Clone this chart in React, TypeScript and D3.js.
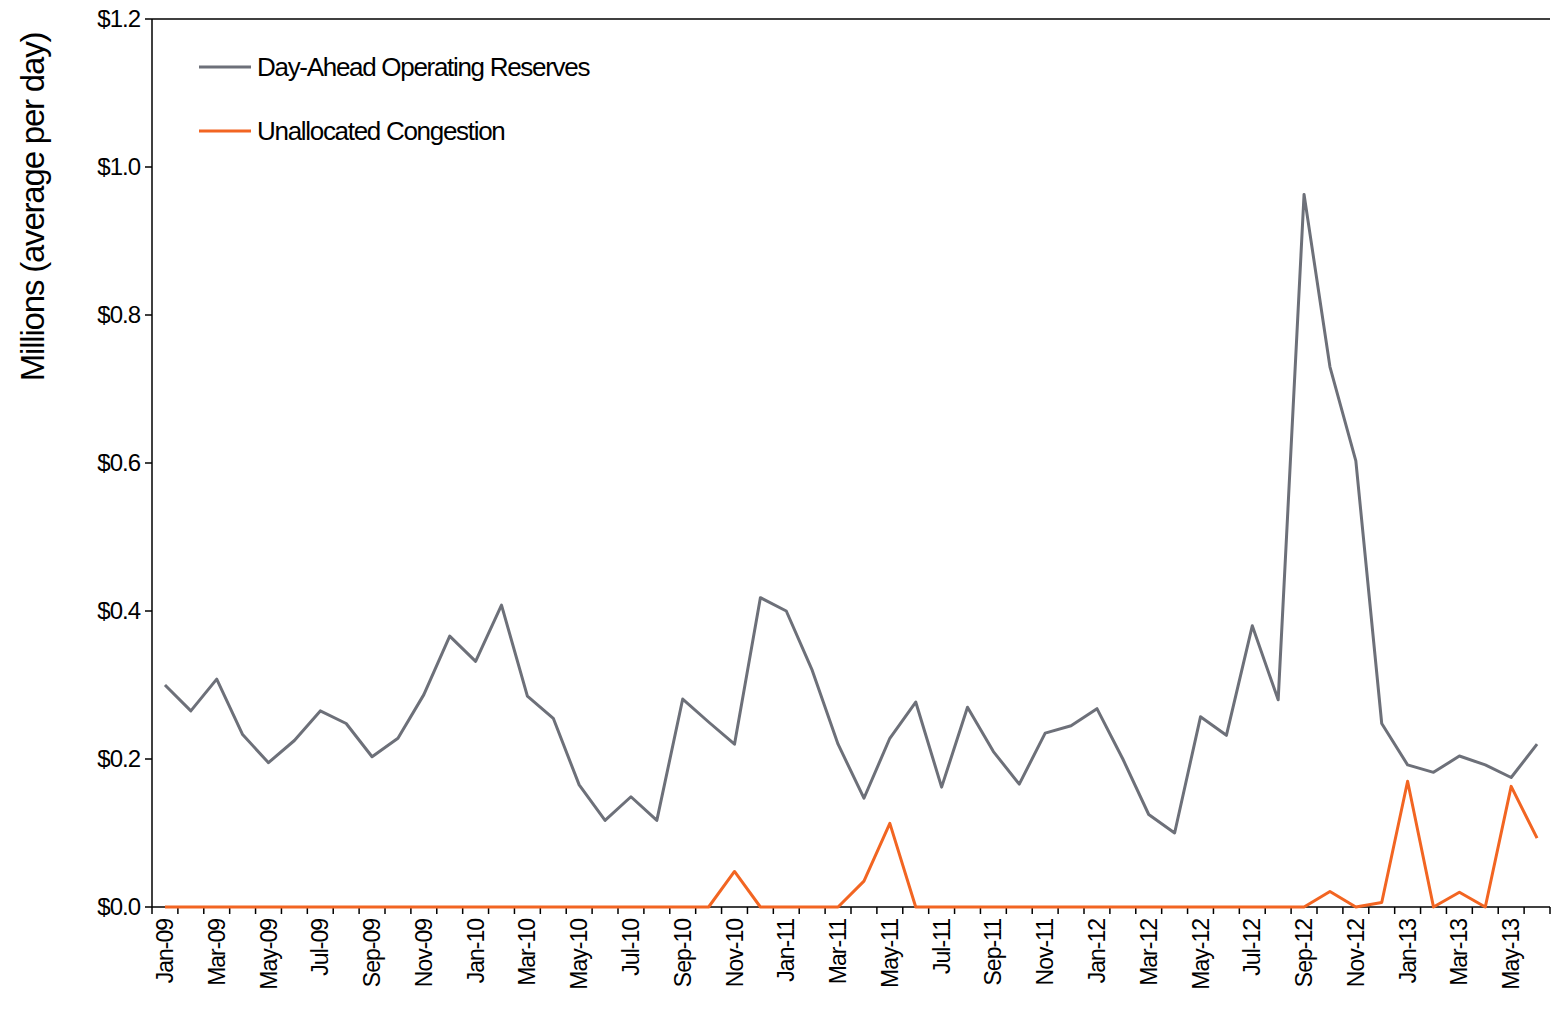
import { useEffect, useRef } from "react";
import * as d3 from "d3";

const monthNames = ["Jan", "Feb", "Mar", "Apr", "May", "Jun", "Jul", "Aug", "Sep", "Oct", "Nov", "Dec"];
const months: string[] = [];
for (let y = 9; y <= 13; y++) {
  for (let m = 0; m < 12; m++) {
    if (y === 13 && m > 5) break;
    months.push(`${monthNames[m]}-${String(y).padStart(2, "0")}`);
  }
}

const reserves = [
  0.3, 0.265, 0.308, 0.233, 0.195, 0.225, 0.265, 0.248, 0.203, 0.228, 0.287, 0.366,
  0.332, 0.408, 0.285, 0.255, 0.165, 0.117, 0.149, 0.117, 0.281, 0.25, 0.22, 0.418,
  0.4, 0.32, 0.22, 0.147, 0.228, 0.277, 0.162, 0.27, 0.21, 0.166, 0.235, 0.245,
  0.268, 0.2, 0.125, 0.1, 0.257, 0.232, 0.38, 0.28, 0.963, 0.73, 0.603, 0.248,
  0.192, 0.182, 0.204, 0.192, 0.175, 0.22,
];

const congestion = [
  0, 0, 0, 0, 0, 0, 0, 0, 0, 0, 0, 0,
  0, 0, 0, 0, 0, 0, 0, 0, 0, 0, 0.048, 0,
  0, 0, 0, 0.035, 0.113, 0, 0, 0, 0, 0, 0, 0,
  0, 0, 0, 0, 0, 0, 0, 0, 0, 0.021, 0, 0.006,
  0.17, 0, 0.02, 0, 0.163, 0.093,
];

const yTicks = [0, 0.2, 0.4, 0.6, 0.8, 1.0, 1.2];
const seriesNames = ["Day-Ahead Operating Reserves", "Unallocated Congestion"];
const colors = ["#6d7079", "#f26522"];

export default function App() {
  const ref = useRef<SVGSVGElement>(null);

  useEffect(() => {
    const svg = d3.select(ref.current!);
    svg.selectAll("*").remove();
    svg.attr("style", "font-family: 'Liberation Sans', Arial, sans-serif; background: white; position: absolute; left: 0; top: 0;");

    const left = 152, right = 1550, top = 19, bottom = 907;
    const x = d3.scaleBand().domain(months).range([left, right]);
    const y = d3.scaleLinear().domain([0, 1.2]).range([bottom, top]);
    const cx = (m: string) => x(m)! + x.bandwidth() / 2;

    // axes
    svg.append("line").attr("x1", left).attr("x2", left).attr("y1", top).attr("y2", bottom)
      .attr("stroke", "#000").attr("stroke-width", 1.5);
    svg.append("line").attr("x1", left).attr("x2", right).attr("y1", top).attr("y2", top)
      .attr("stroke", "#000").attr("stroke-width", 1.5);
    svg.append("line").attr("x1", left).attr("x2", right).attr("y1", bottom).attr("y2", bottom)
      .attr("stroke", "#000").attr("stroke-width", 1.5);

    yTicks.forEach((t) => {
      svg.append("line").attr("x1", left - 7).attr("x2", left).attr("y1", y(t)).attr("y2", y(t))
        .attr("stroke", "#000").attr("stroke-width", 1.5);
      svg.append("text").attr("x", left - 12).attr("y", y(t)).attr("dy", "0.35em")
        .attr("text-anchor", "end").attr("font-size", 24).attr("letter-spacing", -1)
        .text(`$${t.toFixed(1)}`);
    });

    months.forEach((m, i) => {
      const bx = x(m)!;
      svg.append("line").attr("x1", bx).attr("x2", bx).attr("y1", bottom).attr("y2", bottom + 7)
        .attr("stroke", "#000").attr("stroke-width", 1.5);
      if (i % 2 === 0) {
        svg.append("text")
          .attr("transform", `translate(${cx(m) + 8},${bottom + 12}) rotate(-90)`)
          .attr("text-anchor", "end").attr("font-size", 23).attr("letter-spacing", -1)
          .text(m);
      }
    });
    svg.append("line").attr("x1", right).attr("x2", right).attr("y1", bottom).attr("y2", bottom + 7)
      .attr("stroke", "#000").attr("stroke-width", 1.5);

    svg.append("text")
      .attr("transform", `translate(44,207) rotate(-90)`)
      .attr("text-anchor", "middle").attr("font-size", 33).attr("letter-spacing", -1.2)
      .text("Millions (average per day)");

    const line = d3.line<number>().x((_, i) => cx(months[i])).y((v) => y(v));
    [reserves, congestion].forEach((s, k) => {
      svg.append("path").attr("d", line(s)!).attr("fill", "none")
        .attr("stroke", colors[k]).attr("stroke-width", 3).attr("stroke-linejoin", "round");
    });

    seriesNames.forEach((n, k) => {
      const ly = 67 + k * 64;
      svg.append("line").attr("x1", 199).attr("x2", 251).attr("y1", ly).attr("y2", ly)
        .attr("stroke", colors[k]).attr("stroke-width", 3);
      svg.append("text").attr("x", 257).attr("y", ly).attr("dy", "0.35em")
        .attr("font-size", 26).attr("letter-spacing", -1.3).text(n);
    });
  }, []);

  return <svg ref={ref} width={1551} height={1013} />;
}
